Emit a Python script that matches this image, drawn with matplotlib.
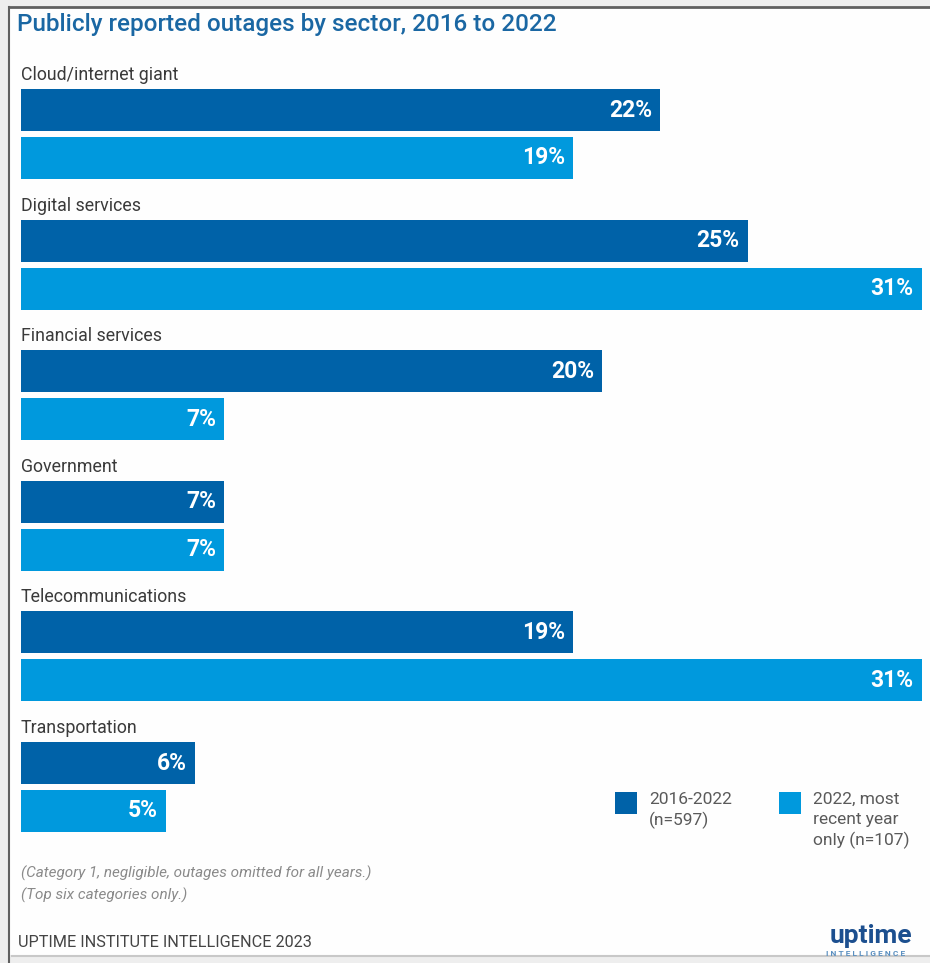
import numpy as np
import matplotlib.pyplot as plt
from matplotlib.patches import Rectangle
from matplotlib.lines import Line2D

sectors = ['Cloud/internet giant', 'Digital services', 'Financial services',
           'Government', 'Telecommunications', 'Transportation']
all_years = [22, 25, 20, 7, 19, 6]
recent_year = [19, 31, 7, 7, 31, 5]
series_names = ['2016-2022\n(n=597)', '2022, most\nrecent year\nonly (n=107)']
title = 'Publicly reported outages by sector, 2016 to 2022'
notes = ['(Category 1, negligible, outages omitted for all years.)',
         '(Top six categories only.)']
source = 'UPTIME INSTITUTE INTELLIGENCE 2023'

dark = '#0062a8'
light = '#0099dd'
W, H = 930, 963

plt.rcParams['font.family'] = ['Roboto', 'DejaVu Sans']


def fx(px):
    return px / W


def fy(px):
    return 1 - px / H


fig = plt.figure(figsize=(W / 100, H / 100), dpi=100)
fig.patch.set_facecolor('#eeeeee')

# white panel and frame
fig.add_artist(Rectangle((fx(9), fy(955)), 1.2, (955 - 7) / H,
                         transform=fig.transFigure, facecolor='#fefefe',
                         edgecolor='none', zorder=0))
fig.add_artist(Line2D([fx(9), 1.1], [fy(7), fy(7)], color='#606060', lw=2))
fig.add_artist(Line2D([fx(9), fx(9)], [fy(7), 0], color='#606060', lw=1.5))
fig.add_artist(Line2D([fx(12), 1.1], [fy(956), fy(956)], color='#c8c8c8', lw=1.5))

fig.text(fx(17), fy(25), title, color='#1a67a3', fontsize=17.5,
         fontweight='medium', va='center', ha='left')

ax = fig.add_axes([fx(21), fy(843.6), (922 - 21) / W, (843.6 - 60) / H])
ax.set_xlim(0, 31)
ax.set_ylim(len(sectors), 0)
ax.axis('off')

pos = np.arange(len(sectors))
h = 0.322
ax.barh(pos + 0.383, all_years, height=h, color=dark)
ax.barh(pos + 0.750, recent_year, height=h, color=light)

pad = 0.28
for i, name in enumerate(sectors):
    ax.text(0, i + 0.115, name, ha='left', va='center', fontsize=12.8,
            color='#3a3a3a')
    ax.text(all_years[i] - pad, i + 0.383, f'{all_years[i]}%', ha='right',
            va='center', color='white', fontsize=16.5, fontweight='bold')
    ax.text(recent_year[i] - pad, i + 0.750, f'{recent_year[i]}%', ha='right',
            va='center', color='white', fontsize=16.5, fontweight='bold')

# legend
for x0, col, label in [(615, dark, series_names[0]), (779, light, series_names[1])]:
    fig.add_artist(Rectangle((fx(x0), fy(814)), 22 / W, 22 / H,
                             transform=fig.transFigure, facecolor=col,
                             edgecolor='none'))
    fig.text(fx(x0 + 34), fy(792), label, ha='left', va='top', fontsize=12.5,
             color='#5a5a5a', linespacing=1.38)

fig.text(fx(21), fy(873), notes[0], ha='left', va='center', fontsize=11,
         style='italic', color='#8a8a8a')
fig.text(fx(21), fy(895), notes[1], ha='left', va='center', fontsize=11,
         style='italic', color='#8a8a8a')
fig.text(fx(18), fy(942), source, ha='left', va='center', fontsize=11.7,
         color='#444444')

# logo
fig.text(fx(830), fy(936), 'uptime', ha='left', va='center', fontsize=19,
         fontweight='bold', color='#1c4f8f')
fig.text(fx(826), fy(953), 'I N T E L L I G E N C E', ha='left', va='center',
         fontsize=6, fontweight='bold', color='#5a8fc0')

fig.savefig('out.png', dpi=100, facecolor=fig.get_facecolor())
